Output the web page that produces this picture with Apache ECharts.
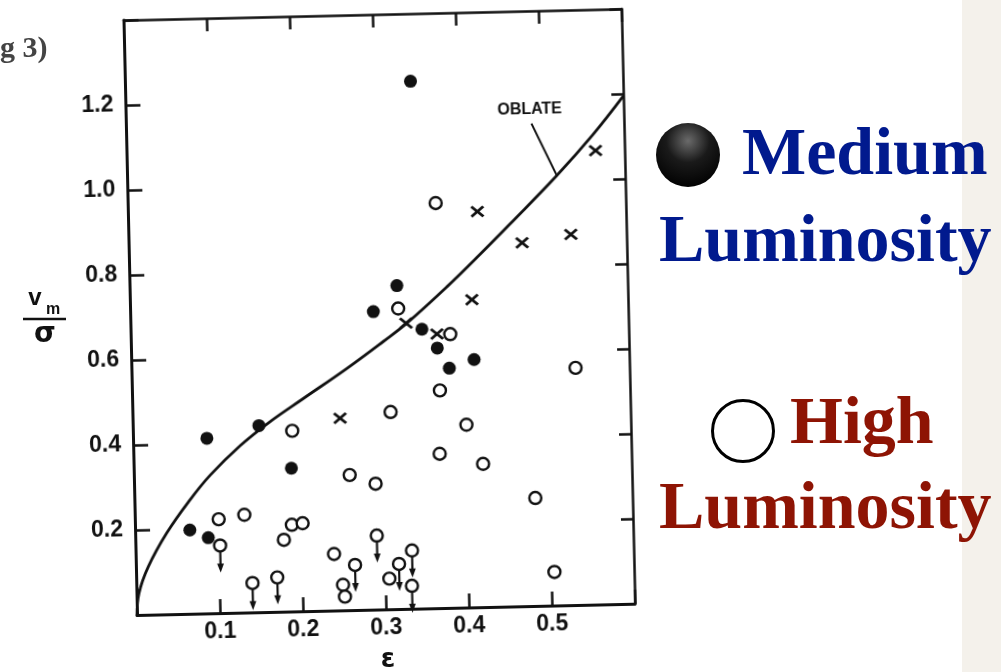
<!DOCTYPE html>
<html>
<head>
<meta charset="utf-8">
<script src="https://cdn.jsdelivr.net/npm/echarts@6/dist/echarts.min.js"></script>
<style>
  html, body { margin:0; padding:0; background:#fff; overflow:hidden; }
  #chart { position:absolute; left:0; top:0; width:1001px; height:672px;
           transform: rotate(-1.3deg); transform-origin: 137px 615px; }
  #overlay { position:absolute; left:0; top:0; width:1001px; height:672px; pointer-events:none; }
</style>
</head>
<body>
<div id="chart"></div>
<div id="overlay"></div>
<script>
// ---- data (epsilon, v_m / sigma) ----
const curveEps = [0, 0.003, 0.015, 0.038, 0.067, 0.092, 0.129, 0.165, 0.206, 0.259, 0.304, 0.333, 0.382, 0.423, 0.460, 0.517, 0.562, 0.600];
const curveV   = [0, 0.051, 0.113, 0.191, 0.268, 0.325, 0.393, 0.447, 0.500, 0.568, 0.630, 0.672, 0.755, 0.830, 0.900, 1.010, 1.105, 1.195];

const medEps = [0.344, 0.322, 0.293, 0.351, 0.369, 0.383, 0.413, 0.152, 0.089, 0.190, 0.066, 0.088];
const medV   = [1.241, 0.761, 0.701, 0.657, 0.612, 0.564, 0.583, 0.439, 0.412, 0.337, 0.197, 0.178];

const crossEps = [0.421, 0.474, 0.533, 0.565, 0.412, 0.332, 0.369, 0.250];
const crossV   = [0.931, 0.855, 0.872, 1.068, 0.724, 0.672, 0.645, 0.452];

const highEps = [0.371, 0.323, 0.385, 0.535, 0.371, 0.311, 0.192, 0.402, 0.369, 0.421, 0.260, 0.291, 0.483, 0.101, 0.132, 0.189, 0.202, 0.179, 0.239, 0.249, 0.251, 0.305, 0.504];
const highV   = [0.953, 0.707, 0.644, 0.558, 0.512, 0.464, 0.425, 0.430, 0.363, 0.337, 0.318, 0.296, 0.254, 0.221, 0.230, 0.204, 0.207, 0.169, 0.133, 0.060, 0.032, 0.072, 0.079];

const limEps = [0.102, 0.140, 0.170, 0.264, 0.291, 0.317, 0.333, 0.332];
const limV   = [0.159, 0.069, 0.081, 0.106, 0.174, 0.106, 0.137, 0.054];

const xTickLabels = ['0.1', '0.2', '0.3', '0.4', '0.5'];
const yTickLabels = ['0.2', '0.4', '0.6', '0.8', '1.0', '1.2'];

function pairs(a, b) { return a.map((v, i) => [v, b[i]]); }

const INK = '#111';
const tickFont = 'Liberation Sans';

const chart = echarts.init(document.getElementById('chart'), null, { renderer: 'canvas' });
chart.setOption({
  animation: false,
  backgroundColor: 'transparent',
  grid: { left: 137, top: 20, width: 498, height: 595 },
  xAxis: [
    { type: 'value', min: 0, max: 0.6, interval: 0.1, position: 'bottom',
      axisLine: { onZero: false, lineStyle: { color: INK, width: 3 } },
      axisTick: { inside: true, length: 14, lineStyle: { color: INK, width: 2.5 } },
      axisLabel: { margin: 7, color: INK, fontFamily: tickFont, fontWeight: 'bold', fontSize: 23,
        formatter: v => { const s = v.toFixed(1); return xTickLabels.indexOf(s) >= 0 ? s : ''; } },
      splitLine: { show: false } },
    { type: 'value', min: 0, max: 0.6, interval: 0.1, position: 'top',
      axisLine: { onZero: false, lineStyle: { color: INK, width: 2.5 } },
      axisTick: { inside: true, length: 13, lineStyle: { color: INK, width: 2.5 } },
      axisLabel: { show: false }, splitLine: { show: false } }
  ],
  yAxis: [
    { type: 'value', min: 0, max: 1.4, interval: 0.2, position: 'left',
      axisLine: { onZero: false, lineStyle: { color: INK, width: 3 } },
      axisTick: { inside: true, length: 15, lineStyle: { color: INK, width: 2.5 } },
      axisLabel: { margin: 12, color: INK, fontFamily: tickFont, fontWeight: 'bold', fontSize: 23,
        formatter: v => { const s = v.toFixed(1); return yTickLabels.indexOf(s) >= 0 ? s : ''; } },
      splitLine: { show: false } },
    { type: 'value', min: 0, max: 1.4, interval: 0.2, position: 'right',
      axisLine: { onZero: false, lineStyle: { color: INK, width: 2.5 } },
      axisTick: { inside: true, length: 12, lineStyle: { color: INK, width: 2.5 } },
      axisLabel: { show: false }, splitLine: { show: false } }
  ],
  series: [
    { name: 'Oblate', type: 'line', data: pairs(curveEps, curveV), smooth: 0.4,
      showSymbol: false, lineStyle: { color: INK, width: 2.8 }, z: 2, silent: true },
    { name: 'Medium', type: 'scatter', data: pairs(medEps, medV), symbol: 'circle', symbolSize: 13,
      itemStyle: { color: INK, opacity: 1 }, z: 3 },
    { name: 'Cross', type: 'scatter', data: pairs(crossEps, crossV),
      symbol: 'path://M0,0L10,10M10,0L0,10', symbolSize: [12, 10],
      itemStyle: { color: 'rgba(0,0,0,0)', borderColor: INK, borderWidth: 2.8, opacity: 1 }, z: 3 },
    { name: 'Limits', type: 'custom', data: pairs(limEps, limV), z: 4,
      renderItem: function (params, api) {
        const p = api.coord([api.value(0), api.value(1)]);
        return { type: 'group', children: [
          { type: 'line', shape: { x1: p[0], y1: p[1], x2: p[0], y2: p[1] + 20 },
            style: { stroke: INK, lineWidth: 2.2 } },
          { type: 'polygon', shape: { points: [[p[0] - 3.4, p[1] + 18], [p[0] + 3.4, p[1] + 18], [p[0], p[1] + 27]] },
            style: { fill: INK } }
        ] };
      } },
    { name: 'HighLim', type: 'scatter', data: pairs(limEps, limV), symbol: 'circle', symbolSize: 12,
      itemStyle: { color: '#fff', borderColor: INK, borderWidth: 2.4, opacity: 1 }, z: 5 },
    { name: 'High', type: 'scatter', data: pairs(highEps, highV), symbol: 'circle', symbolSize: 12,
      itemStyle: { color: '#fff', borderColor: INK, borderWidth: 2.4, opacity: 1 }, z: 5 }
  ],
  graphic: [
    { type: 'text', x: 541, y: 119, z: 10,
      style: { text: 'OBLATE', font: 'bold 16px "Liberation Sans"', fill: INK, align: 'center', verticalAlign: 'middle' } },
    { type: 'line', z: 10, shape: { x1: 542.5, y1: 132.7, x2: 567, y2: 185.9 },
      style: { stroke: INK, lineWidth: 2 } }
  ]
});

const overlay = echarts.init(document.getElementById('overlay'), null, { renderer: 'canvas' });
const BLUE = '#011a8e', RED = '#8e1404';
const serif = '"Liberation Serif", "DejaVu Serif", serif';
overlay.setOption({
  animation: false,
  backgroundColor: 'transparent',
  graphic: [
    { type: 'rect', shape: { x: 962, y: 0, width: 39, height: 672 }, style: { fill: '#f4f1eb' }, z: 0 },
    { type: 'text', x: 0, y: 49, style: { text: 'g 3)', font: 'bold 30px ' + serif, fill: '#444', align: 'left', verticalAlign: 'middle' } },
    // y-axis title v_m / sigma
    { type: 'text', x: 35, y: 298, style: { text: 'v', font: 'bold 24px "Liberation Sans"', fill: INK, align: 'center', verticalAlign: 'middle' } },
    { type: 'text', x: 53, y: 310, style: { text: 'm', font: 'bold 16px "Liberation Sans"', fill: INK, align: 'center', verticalAlign: 'middle' } },
    { type: 'line', shape: { x1: 23, y1: 319, x2: 66, y2: 319 }, style: { stroke: INK, lineWidth: 2.5 } },
    { type: 'text', x: 45, y: 335, style: { text: 'σ', font: 'bold 28px "DejaVu Sans"', fill: INK, align: 'center', verticalAlign: 'middle' } },
    // x-axis title epsilon
    { type: 'text', x: 388, y: 660, style: { text: 'ε', font: 'bold 26px "DejaVu Sans"', fill: INK, align: 'center', verticalAlign: 'middle' } },
    // legend
    { type: 'circle', shape: { cx: 688, cy: 155, r: 32 },
      style: { fill: { type: 'radial', x: 0.5, y: 0.28, r: 0.75,
        colorStops: [{ offset: 0, color: '#6a6a6a' }, { offset: 0.45, color: '#1a1a1a' }, { offset: 1, color: '#000' }] } } },
    { type: 'text', x: 742, y: 156, style: { text: 'Medium', font: 'bold 68px ' + serif, fill: BLUE, align: 'left', verticalAlign: 'middle' } },
    { type: 'text', x: 659, y: 243, style: { text: 'Luminosity', font: 'bold 68px ' + serif, fill: BLUE, align: 'left', verticalAlign: 'middle' } },
    { type: 'circle', shape: { cx: 743, cy: 431, r: 30.5 }, style: { fill: '#fff', stroke: '#000', lineWidth: 3 } },
    { type: 'text', x: 790, y: 425, style: { text: 'High', font: 'bold 68px ' + serif, fill: RED, align: 'left', verticalAlign: 'middle' } },
    { type: 'text', x: 659, y: 510, style: { text: 'Luminosity', font: 'bold 68px ' + serif, fill: RED, align: 'left', verticalAlign: 'middle' } }
  ]
});
</script>
</body>
</html>
